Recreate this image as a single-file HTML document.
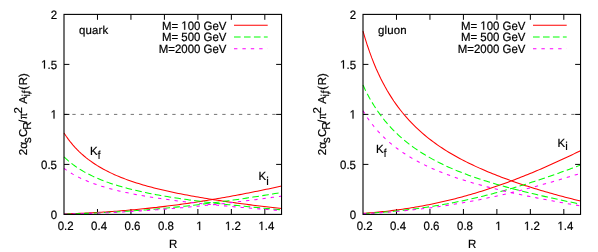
<!DOCTYPE html>
<html><head><meta charset="utf-8"><title>plot</title>
<style>
html,body{margin:0;padding:0;background:#fff;}
svg{display:block;will-change:transform;}
text{font-family:"Liberation Sans",sans-serif;font-size:11.45px;fill:#000;stroke:#000;stroke-width:0.2px;font-kerning:none;text-rendering:geometricPrecision;}
</style></head><body>
<svg width="598" height="252" viewBox="0 0 598 252">
<rect width="598" height="252" fill="#fff"/>
<path d="M97.47 214.40v-5.4M97.47 14.40v5.4M130.94 214.40v-5.4M130.94 14.40v5.4M164.41 214.40v-5.4M164.41 14.40v5.4M197.88 214.40v-5.4M197.88 14.40v5.4M231.35 214.40v-5.4M231.35 14.40v5.4M264.82 214.40v-5.4M264.82 14.40v5.4M64.00 164.40h5.4M281.55 164.40h-5.4M64.00 114.40h5.4M281.55 114.40h-5.4M64.00 64.40h5.4M281.55 64.40h-5.4" stroke="#000" stroke-width="1" fill="none"/>
<path d="M64.00 114.40H281.55" stroke="#000" stroke-width="0.55" stroke-dasharray="3.33 5" fill="none"/>
<polyline points="64.00,132.97 66.20,136.29 68.39,139.35 70.59,142.20 72.79,144.84 74.99,147.31 77.18,149.63 79.38,151.80 81.58,153.85 83.78,155.77 85.97,157.59 88.17,159.32 90.37,160.95 92.57,162.51 94.76,163.98 96.96,165.39 99.16,166.73 101.36,168.01 103.55,169.24 105.75,170.41 107.95,171.53 110.15,172.61 112.34,173.65 114.54,174.65 116.74,175.61 118.94,176.53 121.13,177.42 123.33,178.29 125.53,179.12 127.73,179.92 129.92,180.70 132.12,181.45 134.32,182.18 136.52,182.89 138.71,183.58 140.91,184.25 143.11,184.90 145.31,185.53 147.50,186.15 149.70,186.75 151.90,187.33 154.10,187.90 156.29,188.46 158.49,189.00 160.69,189.53 162.89,190.05 165.08,190.56 167.28,191.05 169.48,191.54 171.68,192.01 173.87,192.48 176.07,192.94 178.27,193.39 180.47,193.83 182.66,194.26 184.86,194.68 187.06,195.10 189.26,195.51 191.45,195.92 193.65,196.31 195.85,196.70 198.05,197.09 200.24,197.47 202.44,197.84 204.64,198.21 206.84,198.57 209.03,198.93 211.23,199.28 213.43,199.63 215.63,199.97 217.82,200.31 220.02,200.64 222.22,200.97 224.42,201.29 226.61,201.61 228.81,201.93 231.01,202.24 233.21,202.55 235.40,202.86 237.60,203.16 239.80,203.45 242.00,203.75 244.19,204.04 246.39,204.32 248.59,204.61 250.79,204.89 252.98,205.16 255.18,205.43 257.38,205.70 259.58,205.97 261.77,206.23 263.97,206.49 266.17,206.75 268.37,207.00 270.56,207.25 272.76,207.49 274.96,207.73 277.16,207.97 279.35,208.21 281.55,208.44" stroke="#ff0000" stroke-width="1.05" fill="none"/>
<polyline points="64.00,213.92 66.20,213.85 68.39,213.78 70.59,213.71 72.79,213.63 74.99,213.54 77.18,213.46 79.38,213.37 81.58,213.27 83.78,213.17 85.97,213.07 88.17,212.96 90.37,212.85 92.57,212.73 94.76,212.61 96.96,212.48 99.16,212.35 101.36,212.22 103.55,212.08 105.75,211.93 107.95,211.79 110.15,211.63 112.34,211.48 114.54,211.32 116.74,211.15 118.94,210.98 121.13,210.81 123.33,210.63 125.53,210.44 127.73,210.26 129.92,210.06 132.12,209.87 134.32,209.67 136.52,209.46 138.71,209.25 140.91,209.03 143.11,208.81 145.31,208.59 147.50,208.36 149.70,208.13 151.90,207.89 154.10,207.64 156.29,207.40 158.49,207.14 160.69,206.89 162.89,206.63 165.08,206.36 167.28,206.09 169.48,205.81 171.68,205.53 173.87,205.25 176.07,204.96 178.27,204.66 180.47,204.37 182.66,204.06 184.86,203.75 187.06,203.44 189.26,203.12 191.45,202.80 193.65,202.48 195.85,202.15 198.05,201.81 200.24,201.47 202.44,201.13 204.64,200.78 206.84,200.42 209.03,200.07 211.23,199.70 213.43,199.34 215.63,198.97 217.82,198.59 220.02,198.21 222.22,197.83 224.42,197.44 226.61,197.05 228.81,196.65 231.01,196.25 233.21,195.85 235.40,195.44 237.60,195.03 239.80,194.61 242.00,194.19 244.19,193.77 246.39,193.34 248.59,192.91 250.79,192.48 252.98,192.04 255.18,191.60 257.38,191.16 259.58,190.71 261.77,190.26 263.97,189.81 266.17,189.35 268.37,188.89 270.56,188.43 272.76,187.97 274.96,187.50 277.16,187.03 279.35,186.56 281.55,186.09" stroke="#ff0000" stroke-width="1.05" fill="none"/>
<polyline points="64.00,156.89 66.20,158.97 68.39,160.91 70.59,162.73 72.79,164.43 74.99,166.03 77.18,167.54 79.38,168.96 81.58,170.31 83.78,171.59 85.97,172.80 88.17,173.96 90.37,175.07 92.57,176.12 94.76,177.13 96.96,178.10 99.16,179.02 101.36,179.91 103.55,180.77 105.75,181.59 107.95,182.38 110.15,183.14 112.34,183.88 114.54,184.59 116.74,185.28 118.94,185.94 121.13,186.58 123.33,187.20 125.53,187.81 127.73,188.39 129.92,188.96 132.12,189.51 134.32,190.04 136.52,190.56 138.71,191.07 140.91,191.56 143.11,192.04 145.31,192.50 147.50,192.96 149.70,193.40 151.90,193.83 154.10,194.25 156.29,194.67 158.49,195.07 160.69,195.46 162.89,195.85 165.08,196.22 167.28,196.59 169.48,196.95 171.68,197.31 173.87,197.65 176.07,197.99 178.27,198.33 180.47,198.65 182.66,198.97 184.86,199.29 187.06,199.60 189.26,199.90 191.45,200.20 193.65,200.50 195.85,200.79 198.05,201.07 200.24,201.35 202.44,201.63 204.64,201.90 206.84,202.17 209.03,202.44 211.23,202.70 213.43,202.96 215.63,203.21 217.82,203.46 220.02,203.71 222.22,203.96 224.42,204.20 226.61,204.44 228.81,204.68 231.01,204.91 233.21,205.14 235.40,205.38 237.60,205.60 239.80,205.83 242.00,206.05 244.19,206.28 246.39,206.50 248.59,206.72 250.79,206.93 252.98,207.15 255.18,207.36 257.38,207.58 259.58,207.79 261.77,208.00 263.97,208.21 266.17,208.42 268.37,208.62 270.56,208.83 272.76,209.03 274.96,209.24 277.16,209.44 279.35,209.64 281.55,209.84" stroke="#00ff00" stroke-width="1.05" fill="none" stroke-dasharray="6.64 3.32" stroke-dashoffset="0.0"/>
<polyline points="64.00,214.03 66.20,213.98 68.39,213.92 70.59,213.86 72.79,213.80 74.99,213.74 77.18,213.67 79.38,213.60 81.58,213.53 83.78,213.45 85.97,213.37 88.17,213.29 90.37,213.20 92.57,213.11 94.76,213.02 96.96,212.92 99.16,212.82 101.36,212.71 103.55,212.61 105.75,212.50 107.95,212.38 110.15,212.26 112.34,212.14 114.54,212.02 116.74,211.89 118.94,211.76 121.13,211.63 123.33,211.49 125.53,211.35 127.73,211.20 129.92,211.05 132.12,210.90 134.32,210.74 136.52,210.58 138.71,210.42 140.91,210.26 143.11,210.09 145.31,209.91 147.50,209.73 149.70,209.55 151.90,209.37 154.10,209.18 156.29,208.99 158.49,208.80 160.69,208.60 162.89,208.40 165.08,208.19 167.28,207.98 169.48,207.77 171.68,207.55 173.87,207.33 176.07,207.11 178.27,206.88 180.47,206.65 182.66,206.41 184.86,206.18 187.06,205.93 189.26,205.69 191.45,205.44 193.65,205.19 195.85,204.93 198.05,204.67 200.24,204.41 202.44,204.14 204.64,203.87 206.84,203.60 209.03,203.32 211.23,203.04 213.43,202.76 215.63,202.47 217.82,202.18 220.02,201.89 222.22,201.59 224.42,201.29 226.61,200.99 228.81,200.68 231.01,200.37 233.21,200.06 235.40,199.74 237.60,199.42 239.80,199.10 242.00,198.77 244.19,198.44 246.39,198.11 248.59,197.78 250.79,197.44 252.98,197.10 255.18,196.76 257.38,196.41 259.58,196.07 261.77,195.72 263.97,195.36 266.17,195.01 268.37,194.65 270.56,194.29 272.76,193.93 274.96,193.57 277.16,193.20 279.35,192.84 281.55,192.47" stroke="#00ff00" stroke-width="1.05" fill="none" stroke-dasharray="6.64 3.32" stroke-dashoffset="0.0"/>
<polyline points="64.00,168.35 66.20,169.94 68.39,171.43 70.59,172.82 72.79,174.12 74.99,175.35 77.18,176.51 79.38,177.61 81.58,178.65 83.78,179.64 85.97,180.59 88.17,181.49 90.37,182.35 92.57,183.17 94.76,183.96 96.96,184.71 99.16,185.44 101.36,186.14 103.55,186.81 105.75,187.46 107.95,188.08 110.15,188.69 112.34,189.27 114.54,189.83 116.74,190.38 118.94,190.90 121.13,191.42 123.33,191.91 125.53,192.40 127.73,192.86 129.92,193.32 132.12,193.76 134.32,194.19 136.52,194.61 138.71,195.02 140.91,195.42 143.11,195.81 145.31,196.18 147.50,196.55 149.70,196.91 151.90,197.27 154.10,197.61 156.29,197.95 158.49,198.28 160.69,198.60 162.89,198.92 165.08,199.23 167.28,199.53 169.48,199.83 171.68,200.12 173.87,200.41 176.07,200.69 178.27,200.97 180.47,201.24 182.66,201.50 184.86,201.77 187.06,202.02 189.26,202.28 191.45,202.53 193.65,202.77 195.85,203.01 198.05,203.25 200.24,203.49 202.44,203.72 204.64,203.95 206.84,204.17 209.03,204.39 211.23,204.61 213.43,204.83 215.63,205.05 217.82,205.26 220.02,205.47 222.22,205.67 224.42,205.88 226.61,206.08 228.81,206.28 231.01,206.48 233.21,206.67 235.40,206.87 237.60,207.06 239.80,207.25 242.00,207.44 244.19,207.62 246.39,207.81 248.59,207.99 250.79,208.18 252.98,208.36 255.18,208.54 257.38,208.72 259.58,208.89 261.77,209.07 263.97,209.25 266.17,209.42 268.37,209.59 270.56,209.76 272.76,209.94 274.96,210.11 277.16,210.27 279.35,210.44 281.55,210.61" stroke="#ff00ff" stroke-width="1.05" fill="none" stroke-dasharray="3.32 4.98" stroke-dashoffset="0.0"/>
<polyline points="64.00,214.08 66.20,214.04 68.39,213.99 70.59,213.94 72.79,213.89 74.99,213.83 77.18,213.78 79.38,213.72 81.58,213.65 83.78,213.59 85.97,213.52 88.17,213.45 90.37,213.37 92.57,213.29 94.76,213.21 96.96,213.13 99.16,213.05 101.36,212.96 103.55,212.87 105.75,212.77 107.95,212.67 110.15,212.57 112.34,212.47 114.54,212.37 116.74,212.26 118.94,212.14 121.13,212.03 123.33,211.91 125.53,211.79 127.73,211.67 129.92,211.54 132.12,211.42 134.32,211.28 136.52,211.15 138.71,211.01 140.91,210.87 143.11,210.73 145.31,210.58 147.50,210.43 149.70,210.28 151.90,210.13 154.10,209.97 156.29,209.81 158.49,209.64 160.69,209.48 162.89,209.31 165.08,209.13 167.28,208.96 169.48,208.78 171.68,208.60 173.87,208.42 176.07,208.23 178.27,208.04 180.47,207.85 182.66,207.65 184.86,207.45 187.06,207.25 189.26,207.05 191.45,206.84 193.65,206.63 195.85,206.42 198.05,206.20 200.24,205.98 202.44,205.76 204.64,205.54 206.84,205.31 209.03,205.08 211.23,204.85 213.43,204.61 215.63,204.38 217.82,204.14 220.02,203.89 222.22,203.65 224.42,203.40 226.61,203.15 228.81,202.89 231.01,202.64 233.21,202.38 235.40,202.12 237.60,201.86 239.80,201.59 242.00,201.32 244.19,201.05 246.39,200.78 248.59,200.50 250.79,200.23 252.98,199.95 255.18,199.66 257.38,199.38 259.58,199.09 261.77,198.81 263.97,198.52 266.17,198.22 268.37,197.93 270.56,197.63 272.76,197.34 274.96,197.04 277.16,196.74 279.35,196.44 281.55,196.13" stroke="#ff00ff" stroke-width="1.05" fill="none" stroke-dasharray="3.32 4.98" stroke-dashoffset="0.0"/>
<rect x="64.00" y="14.40" width="217.55" height="200.00" fill="none" stroke="#000" stroke-width="1.1"/>
<g transform="translate(57.64,230.00) scale(1,1.05)"><text x="0" y="0" xml:space="preserve">0.2</text></g>
<g transform="translate(91.11,230.00) scale(1,1.05)"><text x="0" y="0" xml:space="preserve">0.4</text></g>
<g transform="translate(124.58,230.00) scale(1,1.05)"><text x="0" y="0" xml:space="preserve">0.6</text></g>
<g transform="translate(158.05,230.00) scale(1,1.05)"><text x="0" y="0" xml:space="preserve">0.8</text></g>
<g transform="translate(196.29,230.00) scale(1,1.05)"><text x="0" y="0" xml:space="preserve"><tspan visibility="hidden">1</tspan></text><path d="M515 0V1237L197 1010V1180L530 1409H696V0Z" transform="translate(0.00,0) scale(0.00559,-0.00559)" fill="#000" stroke="#000" stroke-width="36"/></g>
<g transform="translate(224.99,230.00) scale(1,1.05)"><text x="0" y="0" xml:space="preserve"><tspan visibility="hidden">1</tspan>.2</text><path d="M515 0V1237L197 1010V1180L530 1409H696V0Z" transform="translate(0.00,0) scale(0.00559,-0.00559)" fill="#000" stroke="#000" stroke-width="36"/></g>
<g transform="translate(258.46,230.00) scale(1,1.05)"><text x="0" y="0" xml:space="preserve"><tspan visibility="hidden">1</tspan>.4</text><path d="M515 0V1237L197 1010V1180L530 1409H696V0Z" transform="translate(0.00,0) scale(0.00559,-0.00559)" fill="#000" stroke="#000" stroke-width="36"/></g>
<g transform="translate(50.63,218.60) scale(1,1.05)"><text x="0" y="0" xml:space="preserve">0</text></g>
<g transform="translate(41.08,168.60) scale(1,1.05)"><text x="0" y="0" xml:space="preserve">0.5</text></g>
<g transform="translate(50.63,118.60) scale(1,1.05)"><text x="0" y="0" xml:space="preserve"><tspan visibility="hidden">1</tspan></text><path d="M515 0V1237L197 1010V1180L530 1409H696V0Z" transform="translate(0.00,0) scale(0.00559,-0.00559)" fill="#000" stroke="#000" stroke-width="36"/></g>
<g transform="translate(41.08,68.60) scale(1,1.05)"><text x="0" y="0" xml:space="preserve"><tspan visibility="hidden">1</tspan>.5</text><path d="M515 0V1237L197 1010V1180L530 1409H696V0Z" transform="translate(0.00,0) scale(0.00559,-0.00559)" fill="#000" stroke="#000" stroke-width="36"/></g>
<g transform="translate(50.63,18.60) scale(1,1.05)"><text x="0" y="0" xml:space="preserve">2</text></g>
<g transform="translate(168.94,247.50) scale(1,1.05)"><text x="0" y="0" xml:space="preserve">R</text></g>
<text x="79.00" y="34.1" letter-spacing="0.15" stroke-width="0.05">quark</text>
<g transform="translate(161.90,29.70) scale(1,1.05)"><text x="0" y="0" xml:space="preserve">M= <tspan visibility="hidden">1</tspan>00 GeV</text><path d="M515 0V1237L197 1010V1180L530 1409H696V0Z" transform="translate(19.41,0) scale(0.00559,-0.00559)" fill="#000" stroke="#000" stroke-width="36"/></g>
<path d="M234.00 25.20h33.7" stroke="#ff0000" stroke-width="1.05" fill="none"/>
<g transform="translate(161.90,41.20) scale(1,1.05)"><text x="0" y="0" xml:space="preserve">M= 500 GeV</text></g>
<path d="M234.00 36.95h33.7" stroke="#00ff00" stroke-width="1.05" fill="none" stroke-dasharray="6.64 3.32"/>
<g transform="translate(158.71,52.70) scale(1,1.05)"><text x="0" y="0" xml:space="preserve">M=2000 GeV</text></g>
<path d="M234.00 48.70h33.7" stroke="#ff00ff" stroke-width="1.05" fill="none" stroke-dasharray="3.4 5"/>
<g transform="translate(90.10,155.00) scale(1,1.02)"><text x="0" y="0">K</text></g><g transform="translate(97.74,159.35) scale(0.85,1)"><text x="0" y="0" stroke-width="0.1" font-size="9.16">f</text></g>
<g transform="translate(258.50,180.40) scale(1,1.02)"><text x="0" y="0">K</text></g><g transform="translate(266.14,184.75) scale(1,1)"><text x="0" y="0" stroke-width="0.1" font-size="9.16">i</text></g>
<g transform="translate(26.80,114.40) rotate(-90)"><text transform="translate(-40.73,0.00) scale(1,1)" font-size="11.45">2</text><text transform="translate(-34.36,0.00) scale(1.06,1)" font-size="11.45" stroke-width="0.1">α</text><text transform="translate(-28.64,4.35) scale(1,1)" font-size="9.16" stroke-width="0.1">s</text><text transform="translate(-22.56,0.00) scale(1,1)" font-size="11.45">C</text><text transform="translate(-15.29,4.35) scale(1,1)" font-size="9.16" stroke-width="0.1">R</text><text transform="translate(-8.67,0.00) scale(1,1)" font-size="11.45">/</text><text transform="translate(-4.79,0.00) scale(0.8,1)" font-size="11.45" stroke-width="0.1">π</text><text transform="translate(0.99,-4.58) scale(1,1)" font-size="9.16" stroke-width="0.1">2</text><text transform="translate(10.57,0.00) scale(1,1)" font-size="11.45">A</text><text transform="translate(17.81,3.55) scale(1,1)" font-size="9.16" stroke-width="0.1">i</text><text transform="translate(19.54,3.55) scale(1,1)" font-size="9.16" stroke-width="0.1">,</text><text transform="translate(21.09,3.55) scale(0.85,1)" font-size="9.16" stroke-width="0.1">f</text><text transform="translate(24.53,0.00) scale(1,1)" font-size="11.45">(</text><text transform="translate(29.15,0.00) scale(1,1)" font-size="11.45">R)</text></g>
<path d="M396.47 214.40v-5.4M396.47 14.40v5.4M429.94 214.40v-5.4M429.94 14.40v5.4M463.41 214.40v-5.4M463.41 14.40v5.4M496.88 214.40v-5.4M496.88 14.40v5.4M530.35 214.40v-5.4M530.35 14.40v5.4M563.82 214.40v-5.4M563.82 14.40v5.4M363.00 164.40h5.4M580.55 164.40h-5.4M363.00 114.40h5.4M580.55 114.40h-5.4M363.00 64.40h5.4M580.55 64.40h-5.4" stroke="#000" stroke-width="1" fill="none"/>
<path d="M363.00 114.40H580.55" stroke="#000" stroke-width="0.55" stroke-dasharray="3.33 5" fill="none"/>
<polyline points="363.00,31.18 365.20,38.65 367.39,45.54 369.59,51.94 371.79,57.90 373.99,63.46 376.18,68.67 378.38,73.55 380.58,78.15 382.78,82.49 384.97,86.59 387.17,90.47 389.37,94.14 391.57,97.64 393.76,100.96 395.96,104.12 398.16,107.14 400.36,110.02 402.55,112.78 404.75,115.42 406.95,117.95 409.15,120.38 411.34,122.71 413.54,124.96 415.74,127.12 417.94,129.20 420.13,131.20 422.33,133.14 424.53,135.01 426.73,136.82 428.92,138.57 431.12,140.27 433.32,141.91 435.52,143.51 437.71,145.06 439.91,146.56 442.11,148.02 444.31,149.45 446.50,150.83 448.70,152.18 450.90,153.49 453.10,154.77 455.29,156.03 457.49,157.25 459.69,158.44 461.89,159.61 464.08,160.75 466.28,161.87 468.48,162.96 470.68,164.03 472.87,165.08 475.07,166.11 477.27,167.12 479.47,168.11 481.66,169.08 483.86,170.04 486.06,170.98 488.26,171.90 490.45,172.81 492.65,173.70 494.85,174.58 497.05,175.45 499.24,176.30 501.44,177.14 503.64,177.97 505.84,178.78 508.03,179.59 510.23,180.38 512.43,181.16 514.63,181.93 516.82,182.69 519.02,183.44 521.22,184.18 523.42,184.91 525.61,185.63 527.81,186.34 530.01,187.04 532.21,187.74 534.40,188.42 536.60,189.10 538.80,189.77 541.00,190.43 543.19,191.08 545.39,191.73 547.59,192.36 549.79,192.99 551.98,193.61 554.18,194.23 556.38,194.83 558.58,195.43 560.77,196.02 562.97,196.60 565.17,197.18 567.37,197.74 569.56,198.31 571.76,198.86 573.96,199.40 576.16,199.94 578.35,200.47 580.55,200.99" stroke="#ff0000" stroke-width="1.05" fill="none"/>
<polyline points="363.00,213.31 365.20,213.16 367.39,213.01 369.59,212.84 371.79,212.66 373.99,212.48 376.18,212.28 378.38,212.07 380.58,211.86 382.78,211.64 384.97,211.40 387.17,211.16 389.37,210.90 391.57,210.64 393.76,210.37 395.96,210.08 398.16,209.79 400.36,209.49 402.55,209.18 404.75,208.85 406.95,208.52 409.15,208.18 411.34,207.83 413.54,207.46 415.74,207.09 417.94,206.71 420.13,206.32 422.33,205.91 424.53,205.50 426.73,205.08 428.92,204.64 431.12,204.20 433.32,203.75 435.52,203.28 437.71,202.81 439.91,202.32 442.11,201.83 444.31,201.32 446.50,200.81 448.70,200.28 450.90,199.75 453.10,199.20 455.29,198.64 457.49,198.07 459.69,197.50 461.89,196.91 464.08,196.31 466.28,195.70 468.48,195.08 470.68,194.45 472.87,193.81 475.07,193.16 477.27,192.50 479.47,191.82 481.66,191.14 483.86,190.45 486.06,189.74 488.26,189.03 490.45,188.31 492.65,187.57 494.85,186.83 497.05,186.07 499.24,185.31 501.44,184.53 503.64,183.75 505.84,182.95 508.03,182.15 510.23,181.33 512.43,180.51 514.63,179.67 516.82,178.83 519.02,177.97 521.22,177.11 523.42,176.24 525.61,175.36 527.81,174.47 530.01,173.57 532.21,172.66 534.40,171.74 536.60,170.81 538.80,169.87 541.00,168.93 543.19,167.98 545.39,167.02 547.59,166.05 549.79,165.07 551.98,164.09 554.18,163.10 556.38,162.10 558.58,161.10 560.77,160.08 562.97,159.06 565.17,158.04 567.37,157.01 569.56,155.97 571.76,154.93 573.96,153.88 576.16,152.83 578.35,151.77 580.55,150.71" stroke="#ff0000" stroke-width="1.05" fill="none"/>
<polyline points="363.00,84.99 365.20,89.69 367.39,94.06 369.59,98.14 371.79,101.97 373.99,105.56 376.18,108.96 378.38,112.16 380.58,115.19 382.78,118.07 384.97,120.81 387.17,123.42 389.37,125.90 391.57,128.28 393.76,130.55 395.96,132.72 398.16,134.81 400.36,136.81 402.55,138.73 404.75,140.58 406.95,142.36 409.15,144.08 411.34,145.73 413.54,147.33 415.74,148.87 417.94,150.37 420.13,151.81 422.33,153.21 424.53,154.56 426.73,155.88 428.92,157.15 431.12,158.39 433.32,159.59 435.52,160.76 437.71,161.90 439.91,163.01 442.11,164.08 444.31,165.13 446.50,166.15 448.70,167.15 450.90,168.12 453.10,169.07 455.29,170.00 457.49,170.91 459.69,171.79 461.89,172.66 464.08,173.50 466.28,174.33 468.48,175.15 470.68,175.94 472.87,176.72 475.07,177.48 477.27,178.23 479.47,178.97 481.66,179.69 483.86,180.40 486.06,181.10 488.26,181.78 490.45,182.46 492.65,183.12 494.85,183.77 497.05,184.41 499.24,185.04 501.44,185.67 503.64,186.28 505.84,186.88 508.03,187.48 510.23,188.07 512.43,188.65 514.63,189.22 516.82,189.79 519.02,190.35 521.22,190.90 523.42,191.45 525.61,191.99 527.81,192.52 530.01,193.05 532.21,193.58 534.40,194.09 536.60,194.61 538.80,195.12 541.00,195.62 543.19,196.12 545.39,196.62 547.59,197.11 549.79,197.60 551.98,198.09 554.18,198.57 556.38,199.05 558.58,199.52 560.77,200.00 562.97,200.47 565.17,200.93 567.37,201.40 569.56,201.86 571.76,202.32 573.96,202.78 576.16,203.24 578.35,203.70 580.55,204.15" stroke="#00ff00" stroke-width="1.05" fill="none" stroke-dasharray="6.64 3.32" stroke-dashoffset="0.3"/>
<polyline points="363.00,213.56 365.20,213.45 367.39,213.32 369.59,213.19 371.79,213.06 373.99,212.91 376.18,212.76 378.38,212.60 380.58,212.44 382.78,212.26 384.97,212.08 387.17,211.90 389.37,211.70 391.57,211.50 393.76,211.29 395.96,211.07 398.16,210.84 400.36,210.61 402.55,210.37 404.75,210.12 406.95,209.86 409.15,209.60 411.34,209.32 413.54,209.04 415.74,208.76 417.94,208.46 420.13,208.16 422.33,207.85 424.53,207.53 426.73,207.20 428.92,206.87 431.12,206.52 433.32,206.17 435.52,205.81 437.71,205.45 439.91,205.07 442.11,204.69 444.31,204.30 446.50,203.90 448.70,203.50 450.90,203.08 453.10,202.66 455.29,202.23 457.49,201.79 459.69,201.35 461.89,200.89 464.08,200.43 466.28,199.96 468.48,199.48 470.68,198.99 472.87,198.50 475.07,197.99 477.27,197.48 479.47,196.96 481.66,196.43 483.86,195.90 486.06,195.35 488.26,194.80 490.45,194.24 492.65,193.67 494.85,193.10 497.05,192.51 499.24,191.92 501.44,191.32 503.64,190.72 505.84,190.10 508.03,189.48 510.23,188.85 512.43,188.21 514.63,187.56 516.82,186.91 519.02,186.25 521.22,185.58 523.42,184.90 525.61,184.22 527.81,183.53 530.01,182.83 532.21,182.12 534.40,181.41 536.60,180.69 538.80,179.97 541.00,179.24 543.19,178.50 545.39,177.75 547.59,177.00 549.79,176.24 551.98,175.48 554.18,174.71 556.38,173.93 558.58,173.15 560.77,172.36 562.97,171.57 565.17,170.77 567.37,169.97 569.56,169.16 571.76,168.35 573.96,167.53 576.16,166.71 578.35,165.88 580.55,165.05" stroke="#00ff00" stroke-width="1.05" fill="none" stroke-dasharray="6.64 3.32" stroke-dashoffset="0.0"/>
<polyline points="363.00,110.78 365.20,114.36 367.39,117.71 369.59,120.84 371.79,123.77 373.99,126.54 376.18,129.15 378.38,131.62 380.58,133.97 382.78,136.20 384.97,138.32 387.17,140.35 389.37,142.28 391.57,144.13 393.76,145.90 395.96,147.61 398.16,149.24 400.36,150.81 402.55,152.32 404.75,153.78 406.95,155.18 409.15,156.54 411.34,157.85 413.54,159.12 415.74,160.35 417.94,161.54 420.13,162.69 422.33,163.81 424.53,164.89 426.73,165.94 428.92,166.97 431.12,167.96 433.32,168.93 435.52,169.87 437.71,170.79 439.91,171.69 442.11,172.56 444.31,173.41 446.50,174.25 448.70,175.06 450.90,175.85 453.10,176.63 455.29,177.39 457.49,178.13 459.69,178.85 461.89,179.57 464.08,180.26 466.28,180.95 468.48,181.62 470.68,182.27 472.87,182.92 475.07,183.55 477.27,184.17 479.47,184.78 481.66,185.38 483.86,185.97 486.06,186.55 488.26,187.12 490.45,187.68 492.65,188.24 494.85,188.78 497.05,189.32 499.24,189.85 501.44,190.37 503.64,190.88 505.84,191.39 508.03,191.89 510.23,192.38 512.43,192.87 514.63,193.35 516.82,193.83 519.02,194.30 521.22,194.76 523.42,195.22 525.61,195.68 527.81,196.13 530.01,196.57 532.21,197.01 534.40,197.45 536.60,197.88 538.80,198.31 541.00,198.73 543.19,199.16 545.39,199.57 547.59,199.99 549.79,200.40 551.98,200.81 554.18,201.21 556.38,201.61 558.58,202.01 560.77,202.41 562.97,202.80 565.17,203.19 567.37,203.58 569.56,203.97 571.76,204.35 573.96,204.74 576.16,205.12 578.35,205.50 580.55,205.87" stroke="#ff00ff" stroke-width="1.05" fill="none" stroke-dasharray="3.32 4.98" stroke-dashoffset="0.3"/>
<polyline points="363.00,213.68 365.20,213.58 367.39,213.48 369.59,213.36 371.79,213.25 373.99,213.12 376.18,213.00 378.38,212.86 380.58,212.72 382.78,212.57 384.97,212.41 387.17,212.25 389.37,212.09 391.57,211.91 393.76,211.73 395.96,211.54 398.16,211.35 400.36,211.15 402.55,210.95 404.75,210.73 406.95,210.52 409.15,210.29 411.34,210.06 413.54,209.82 415.74,209.58 417.94,209.33 420.13,209.07 422.33,208.81 424.53,208.53 426.73,208.26 428.92,207.97 431.12,207.68 433.32,207.39 435.52,207.09 437.71,206.78 439.91,206.46 442.11,206.14 444.31,205.81 446.50,205.47 448.70,205.13 450.90,204.78 453.10,204.43 455.29,204.06 457.49,203.70 459.69,203.32 461.89,202.94 464.08,202.55 466.28,202.16 468.48,201.76 470.68,201.35 472.87,200.93 475.07,200.51 477.27,200.09 479.47,199.65 481.66,199.21 483.86,198.77 486.06,198.31 488.26,197.85 490.45,197.39 492.65,196.91 494.85,196.44 497.05,195.95 499.24,195.46 501.44,194.96 503.64,194.46 505.84,193.95 508.03,193.43 510.23,192.91 512.43,192.38 514.63,191.84 516.82,191.30 519.02,190.76 521.22,190.20 523.42,189.65 525.61,189.08 527.81,188.51 530.01,187.94 532.21,187.35 534.40,186.77 536.60,186.17 538.80,185.58 541.00,184.97 543.19,184.36 545.39,183.75 547.59,183.13 549.79,182.51 551.98,181.88 554.18,181.24 556.38,180.60 558.58,179.96 560.77,179.31 562.97,178.66 565.17,178.00 567.37,177.34 569.56,176.68 571.76,176.01 573.96,175.34 576.16,174.66 578.35,173.98 580.55,173.30" stroke="#ff00ff" stroke-width="1.05" fill="none" stroke-dasharray="3.32 4.98" stroke-dashoffset="0.0"/>
<rect x="363.00" y="14.40" width="217.55" height="200.00" fill="none" stroke="#000" stroke-width="1.1"/>
<g transform="translate(356.64,230.00) scale(1,1.05)"><text x="0" y="0" xml:space="preserve">0.2</text></g>
<g transform="translate(390.11,230.00) scale(1,1.05)"><text x="0" y="0" xml:space="preserve">0.4</text></g>
<g transform="translate(423.58,230.00) scale(1,1.05)"><text x="0" y="0" xml:space="preserve">0.6</text></g>
<g transform="translate(457.05,230.00) scale(1,1.05)"><text x="0" y="0" xml:space="preserve">0.8</text></g>
<g transform="translate(495.29,230.00) scale(1,1.05)"><text x="0" y="0" xml:space="preserve"><tspan visibility="hidden">1</tspan></text><path d="M515 0V1237L197 1010V1180L530 1409H696V0Z" transform="translate(0.00,0) scale(0.00559,-0.00559)" fill="#000" stroke="#000" stroke-width="36"/></g>
<g transform="translate(523.99,230.00) scale(1,1.05)"><text x="0" y="0" xml:space="preserve"><tspan visibility="hidden">1</tspan>.2</text><path d="M515 0V1237L197 1010V1180L530 1409H696V0Z" transform="translate(0.00,0) scale(0.00559,-0.00559)" fill="#000" stroke="#000" stroke-width="36"/></g>
<g transform="translate(557.46,230.00) scale(1,1.05)"><text x="0" y="0" xml:space="preserve"><tspan visibility="hidden">1</tspan>.4</text><path d="M515 0V1237L197 1010V1180L530 1409H696V0Z" transform="translate(0.00,0) scale(0.00559,-0.00559)" fill="#000" stroke="#000" stroke-width="36"/></g>
<g transform="translate(349.63,218.60) scale(1,1.05)"><text x="0" y="0" xml:space="preserve">0</text></g>
<g transform="translate(340.08,168.60) scale(1,1.05)"><text x="0" y="0" xml:space="preserve">0.5</text></g>
<g transform="translate(349.63,118.60) scale(1,1.05)"><text x="0" y="0" xml:space="preserve"><tspan visibility="hidden">1</tspan></text><path d="M515 0V1237L197 1010V1180L530 1409H696V0Z" transform="translate(0.00,0) scale(0.00559,-0.00559)" fill="#000" stroke="#000" stroke-width="36"/></g>
<g transform="translate(340.08,68.60) scale(1,1.05)"><text x="0" y="0" xml:space="preserve"><tspan visibility="hidden">1</tspan>.5</text><path d="M515 0V1237L197 1010V1180L530 1409H696V0Z" transform="translate(0.00,0) scale(0.00559,-0.00559)" fill="#000" stroke="#000" stroke-width="36"/></g>
<g transform="translate(349.63,18.60) scale(1,1.05)"><text x="0" y="0" xml:space="preserve">2</text></g>
<g transform="translate(467.94,247.50) scale(1,1.05)"><text x="0" y="0" xml:space="preserve">R</text></g>
<text x="378.00" y="34.1" letter-spacing="0.15" stroke-width="0.05">gluon</text>
<g transform="translate(460.90,29.70) scale(1,1.05)"><text x="0" y="0" xml:space="preserve">M= <tspan visibility="hidden">1</tspan>00 GeV</text><path d="M515 0V1237L197 1010V1180L530 1409H696V0Z" transform="translate(19.41,0) scale(0.00559,-0.00559)" fill="#000" stroke="#000" stroke-width="36"/></g>
<path d="M533.00 25.20h33.7" stroke="#ff0000" stroke-width="1.05" fill="none"/>
<g transform="translate(460.90,41.20) scale(1,1.05)"><text x="0" y="0" xml:space="preserve">M= 500 GeV</text></g>
<path d="M533.00 36.95h33.7" stroke="#00ff00" stroke-width="1.05" fill="none" stroke-dasharray="6.64 3.32"/>
<g transform="translate(457.71,52.70) scale(1,1.05)"><text x="0" y="0" xml:space="preserve">M=2000 GeV</text></g>
<path d="M533.00 48.70h33.7" stroke="#ff00ff" stroke-width="1.05" fill="none" stroke-dasharray="3.4 5"/>
<g transform="translate(376.00,152.55) scale(1,1.02)"><text x="0" y="0">K</text></g><g transform="translate(383.64,156.90) scale(0.85,1)"><text x="0" y="0" stroke-width="0.1" font-size="9.16">f</text></g>
<g transform="translate(557.60,146.90) scale(1,1.02)"><text x="0" y="0">K</text></g><g transform="translate(565.24,150.22) scale(1,1)"><text x="0" y="0" stroke-width="0.1" font-size="9.16">i</text></g>
<g transform="translate(325.80,114.40) rotate(-90)"><text transform="translate(-40.73,0.00) scale(1,1)" font-size="11.45">2</text><text transform="translate(-34.36,0.00) scale(1.06,1)" font-size="11.45" stroke-width="0.1">α</text><text transform="translate(-28.64,4.35) scale(1,1)" font-size="9.16" stroke-width="0.1">s</text><text transform="translate(-22.56,0.00) scale(1,1)" font-size="11.45">C</text><text transform="translate(-15.29,4.35) scale(1,1)" font-size="9.16" stroke-width="0.1">R</text><text transform="translate(-8.67,0.00) scale(1,1)" font-size="11.45">/</text><text transform="translate(-4.79,0.00) scale(0.8,1)" font-size="11.45" stroke-width="0.1">π</text><text transform="translate(0.99,-4.58) scale(1,1)" font-size="9.16" stroke-width="0.1">2</text><text transform="translate(10.57,0.00) scale(1,1)" font-size="11.45">A</text><text transform="translate(17.81,3.55) scale(1,1)" font-size="9.16" stroke-width="0.1">i</text><text transform="translate(19.54,3.55) scale(1,1)" font-size="9.16" stroke-width="0.1">,</text><text transform="translate(21.09,3.55) scale(0.85,1)" font-size="9.16" stroke-width="0.1">f</text><text transform="translate(24.53,0.00) scale(1,1)" font-size="11.45">(</text><text transform="translate(29.15,0.00) scale(1,1)" font-size="11.45">R)</text></g>
</svg>
</body></html>
